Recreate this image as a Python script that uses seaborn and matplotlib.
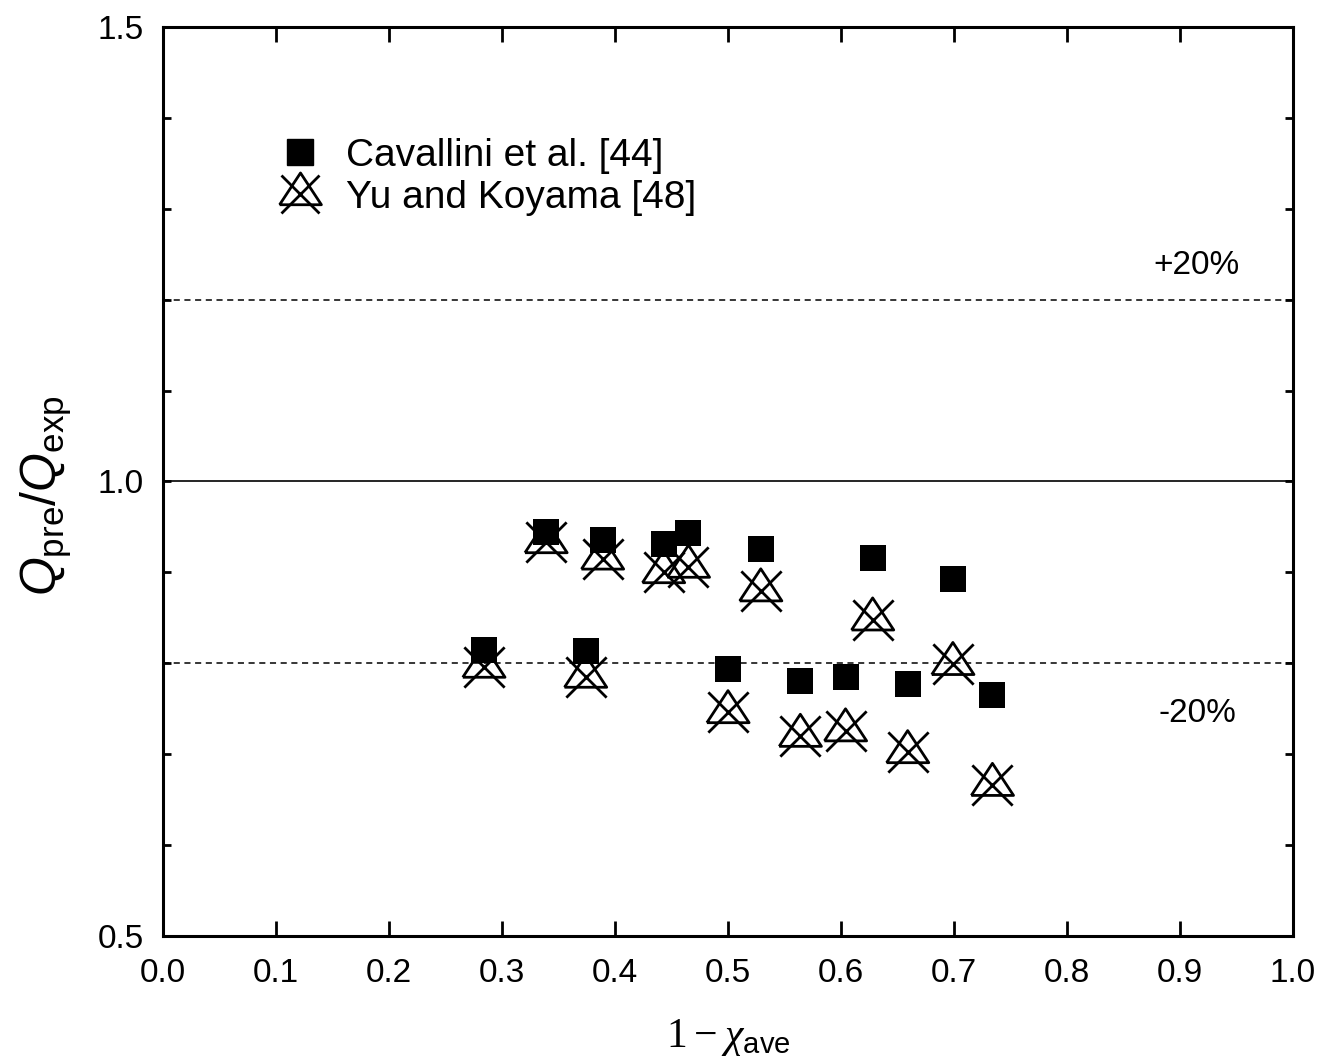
import numpy as np
import pandas as pd
import seaborn as sns
import matplotlib.pyplot as plt
from matplotlib.lines import Line2D
from matplotlib.ticker import MultipleLocator, FuncFormatter

# data
x_vals = [0.284, 0.339, 0.389, 0.374, 0.443, 0.465, 0.500, 0.529,
          0.564, 0.604, 0.628, 0.659, 0.699, 0.734]
cav_ratio = [0.815, 0.944, 0.936, 0.814, 0.931, 0.943, 0.794, 0.926,
             0.781, 0.785, 0.916, 0.777, 0.893, 0.765]
yu_ratio = [0.796, 0.933, 0.915, 0.785, 0.900, 0.906, 0.746, 0.880,
            0.720, 0.726, 0.848, 0.702, 0.799, 0.666]
labels = ["Cavallini et al. [44]", "Yu and Koyama [48]"]

sns.set_style("ticks")
plt.rcParams['font.family'] = ['Liberation Sans', 'DejaVu Sans']
plt.rcParams['text.color'] = 'black'
plt.rcParams['axes.labelcolor'] = 'black'
plt.rcParams['mathtext.fontset'] = 'custom'
plt.rcParams['mathtext.rm'] = 'Liberation Serif'
plt.rcParams['mathtext.it'] = 'Liberation Sans:italic'
plt.rcParams['mathtext.sf'] = 'Liberation Sans'
plt.rcParams['mathtext.bf'] = 'Liberation Serif:italic'

df_cav = pd.DataFrame({"x": x_vals, "y": cav_ratio})
df_yu = pd.DataFrame({"x": x_vals, "y": yu_ratio})

# open triangle sitting a bit above the centre of the cross
tri = [(-1, -0.49), (1, -0.49), (0, 1.03), (-1, -0.49)]

fig = plt.figure(figsize=(13.24, 10.63), dpi=100)
ax = fig.add_axes([0.1231, 0.1195, 0.8535, 0.8551])

# reference lines
ax.axhline(1.0, color='black', lw=1.2, zorder=1)
ax.axhline(1.2, color='black', lw=1.1, ls=(0, (4, 3)), zorder=1)
ax.axhline(0.8, color='black', lw=1.1, ls=(0, (4, 3)), zorder=1)

# Yu and Koyama: open triangle with a cross over it
sns.scatterplot(data=df_yu, x="x", y="y", marker=tri, s=980,
                facecolors='none', edgecolor='black', linewidth=2, ax=ax, zorder=2)
sns.scatterplot(data=df_yu, x="x", y="y", marker='x', s=840,
                color='black', linewidth=2, ax=ax, zorder=2)
# Cavallini: filled squares
sns.scatterplot(data=df_cav, x="x", y="y", marker='s', s=370,
                color='black', edgecolor='black', linewidth=0, ax=ax, zorder=3)

ax.set_xlim(0, 1.0)
ax.set_ylim(0.5, 1.5)
ax.xaxis.set_major_locator(MultipleLocator(0.1))
ax.xaxis.set_major_formatter(FuncFormatter(lambda v, p: f"{v:.1f}"))
ax.yaxis.set_major_locator(MultipleLocator(0.1))
ax.yaxis.set_major_formatter(FuncFormatter(
    lambda v, p: f"{v:.1f}" if abs(round(v * 2) - v * 2) < 1e-6 else ""))

ax.tick_params(axis='both', direction='in', top=True, right=True,
               width=2, labelsize=24, colors='black')
ax.tick_params(axis='x', length=11, pad=16)
ax.tick_params(axis='y', length=6, pad=14)
for sp in ax.spines.values():
    sp.set_linewidth(2.2)
    sp.set_color('black')

ax.set_xlabel(r'$\mathrm{1}-\mathbf{\chi}_{\mathsf{ave}}$', fontsize=30, labelpad=20)
ax.set_ylabel(r'$Q_{\mathsf{pre}}\mathsf{/}Q_{\mathsf{exp}}$', fontsize=36)
ax.yaxis.set_label_coords(-0.079, 0.484)

ax.text(0.915, 1.238, "+20%", fontsize=24, ha='center', va='center')
ax.text(0.915, 0.745, "-20%", fontsize=24, ha='center', va='center')

h_cav = Line2D([], [], marker='s', ls='none', color='black', markersize=19)
h_tri = Line2D([], [], marker=tri, ls='none', markerfacecolor='none',
               markeredgecolor='black', markeredgewidth=2, markersize=31)
h_x = Line2D([], [], marker='x', ls='none', color='black',
             markeredgewidth=2, markersize=28)
ax.legend([h_cav, (h_tri, h_x)], labels, loc='upper left',
          bbox_to_anchor=(0.083, 0.895), frameon=False, fontsize=28,
          handlelength=1.4, handletextpad=0.5, labelspacing=0.15,
          borderaxespad=0)

plt.savefig("out.png", dpi=100)
